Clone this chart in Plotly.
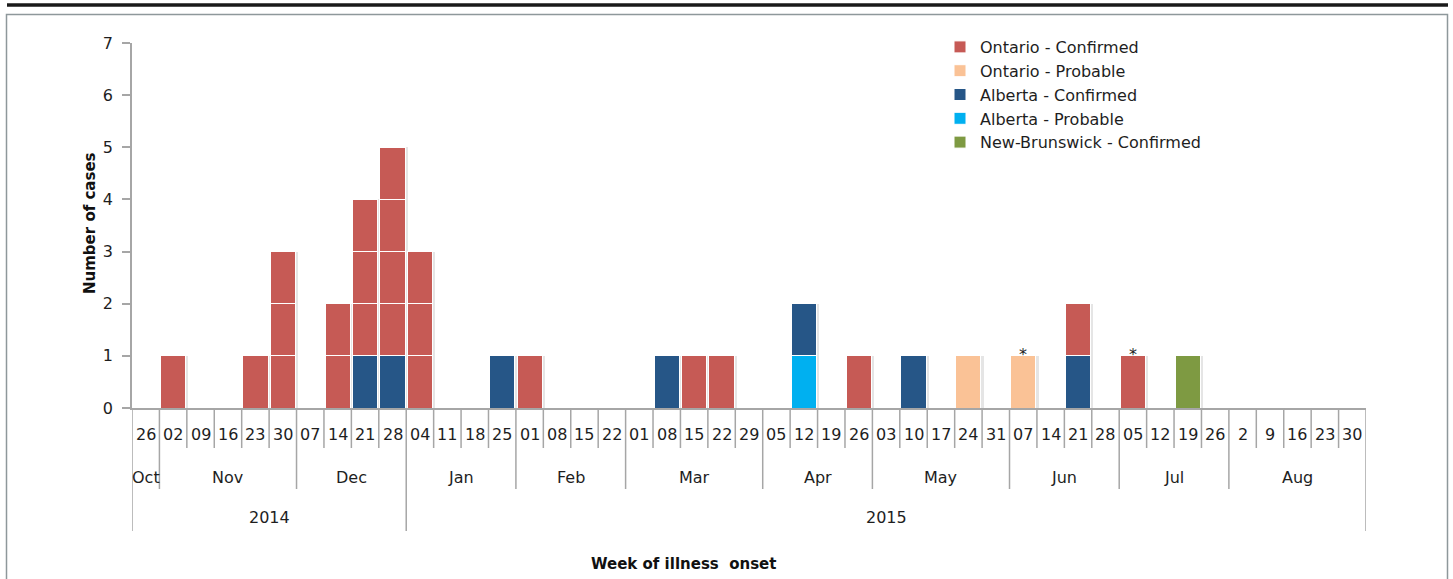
import plotly.graph_objects as go

# ---------------- data ----------------
weeks = ["26",
         "02", "09", "16", "23", "30",
         "07", "14", "21", "28",
         "04", "11", "18", "25",
         "01", "08", "15", "22",
         "01", "08", "15", "22", "29",
         "05", "12", "19", "26",
         "03", "10", "17", "24", "31",
         "07", "14", "21", "28",
         "05", "12", "19", "26",
         "2", "9", "16", "23", "30"]
months = (["Oct"] + ["Nov"] * 5 + ["Dec"] * 4 + ["Jan"] * 4 + ["Feb"] * 4 +
          ["Mar"] * 5 + ["Apr"] * 4 + ["May"] * 5 + ["Jun"] * 4 + ["Jul"] * 4 +
          ["Aug"] * 5)
years = ["2014"] * 10 + ["2015"] * 35

#           Oct Nov        Dec      Jan      Feb      Mar        Apr      May        Jun      Jul      Aug
on_conf = [0, 1,0,0,1,3, 0,2,3,4, 3,0,0,0, 1,0,0,0, 0,0,1,1,0, 0,0,0,1, 0,0,0,0,0, 0,0,1,0, 1,0,0,0, 0,0,0,0,0]
on_prob = [0, 0,0,0,0,0, 0,0,0,0, 0,0,0,0, 0,0,0,0, 0,0,0,0,0, 0,0,0,0, 0,0,0,1,0, 1,0,0,0, 0,0,0,0, 0,0,0,0,0]
ab_conf = [0, 0,0,0,0,0, 0,0,1,1, 0,0,0,1, 0,0,0,0, 0,1,0,0,0, 0,1,0,0, 0,1,0,0,0, 0,0,1,0, 0,0,0,0, 0,0,0,0,0]
ab_prob = [0, 0,0,0,0,0, 0,0,0,0, 0,0,0,0, 0,0,0,0, 0,0,0,0,0, 0,1,0,0, 0,0,0,0,0, 0,0,0,0, 0,0,0,0, 0,0,0,0,0]
nb_conf = [0, 0,0,0,0,0, 0,0,0,0, 0,0,0,0, 0,0,0,0, 0,0,0,0,0, 0,0,0,0, 0,0,0,0,0, 0,0,0,0, 0,0,1,0, 0,0,0,0,0]
starred = ["07 Jun", "05 Jul"]

# stacking order bottom -> top, with legend rank
series = [
    ("Alberta - Probable", ab_prob, "#00B0F0", 4),
    ("Alberta - Confirmed", ab_conf, "#265687", 3),
    ("Ontario - Confirmed", on_conf, "#C65A55", 1),
    ("Ontario - Probable", on_prob, "#FAC296", 2),
    ("New-Brunswick - Confirmed", nb_conf, "#7E9A42", 5),
]

# ---------------- geometry helpers (pixels -> paper) ----------------
W, H = 1453, 579
PL, PR, PT, PB = 132, 1366, 43, 408
def xp(px):
    return (px - PL) / (PR - PL)
def yp(py):
    return (PB - py) / (PB - PT)

FONT = "DejaVu Sans"
TXT = "#1e1e1e"
GRID = "#A6A6A6"
BARW = 0.92

x = list(range(len(weeks)))
n = len(weeks)
totals = [sum(s[1][i] for s in series) for i in x]

fig = go.Figure()

# soft shadow behind the bars (on the base x axis, drawn underneath)
fig.add_trace(go.Bar(
    x=x, y=[t if t > 0 else None for t in totals], width=BARW, offset=-BARW / 2 + 0.1,
    marker=dict(color="rgba(0,0,0,0.10)", line=dict(width=0)),
    showlegend=False, hoverinfo="skip", xaxis="x", yaxis="y"))

for name, vals, color, rank in series:
    for k in range(max(vals)):
        ys = [1 if v > k else None for v in vals]
        fig.add_trace(go.Bar(
            x=x, y=ys, name=name, legendgroup=name, showlegend=(k == 0),
            legendrank=rank, width=BARW,
            marker=dict(color=color, line=dict(color="white", width=1)),
            hoverinfo="skip", xaxis="x2", yaxis="y"))

# asterisks
for s in starred:
    d, m = s.split()
    idx = [i for i in x if weeks[i] == d and months[i] == m][0]
    fig.add_annotation(x=idx, y=totals[idx], xref="x", yref="y", text="*", showarrow=False,
                       yanchor="bottom", yshift=-10, font=dict(family=FONT, size=16, color=TXT))

shapes = []
# separators on the multi-level category axis
LEN_DAY, LEN_MONTH, LEN_YEAR = 448, 489, 531
for i in range(n + 1):
    if i == 0 or i == n or years[i] != years[i - 1]:
        end = LEN_YEAR
    elif months[i] != months[i - 1]:
        end = LEN_MONTH
    else:
        end = LEN_DAY
    shapes.append(dict(type="line", xref="x", yref="paper", x0=i - 0.5, x1=i - 0.5,
                       y0=yp(PB), y1=yp(end), line=dict(color=GRID, width=1.5)))

# labels
for i, d in enumerate(weeks):
    fig.add_annotation(x=i, y=yp(434), xref="x", yref="paper", text=d, showarrow=False,
                       yanchor="middle", font=dict(family=FONT, size=16, color=TXT))

def groups(labels):
    out = []
    start = 0
    for i in range(1, len(labels) + 1):
        if i == len(labels) or labels[i] != labels[start]:
            out.append((labels[start], start, i - 1))
            start = i
    return out

for lab, a, b in groups([m + y for m, y in zip(months, years)]):
    fig.add_annotation(x=(a + b) / 2, y=yp(477), xref="x", yref="paper", text=lab[:3],
                       showarrow=False, yanchor="middle",
                       font=dict(family=FONT, size=16, color=TXT))
for lab, a, b in groups(years):
    fig.add_annotation(x=(a + b) / 2, y=yp(517), xref="x", yref="paper", text=lab,
                       showarrow=False, yanchor="middle",
                       font=dict(family=FONT, size=16, color=TXT))

# axis titles
fig.add_annotation(x=xp(683), y=yp(564), xref="paper", yref="paper",
                   text="<b>Week of illness  onset</b>", showarrow=False, yanchor="middle",
                   font=dict(family=FONT, size=15, color="#111111"))
fig.add_annotation(x=xp(90), y=yp(223), xref="paper", yref="paper",
                   text="<b>Number of cases</b>", showarrow=False, textangle=-90,
                   xanchor="center", yanchor="middle",
                   font=dict(family=FONT, size=15, color="#111111"))

# frame and top rule
shapes.append(dict(type="rect", xref="paper", yref="paper", x0=xp(6.5), x1=xp(1447.5),
                   y0=yp(640), y1=yp(14.5), line=dict(color="#8E989B", width=1.5),
                   layer="below"))
shapes.append(dict(type="line", xref="paper", yref="paper", x0=xp(7), x1=xp(1448),
                   y0=yp(5), y1=yp(5), line=dict(color="#1a1a1a", width=3.5)))

fig.update_layout(
    width=W, height=H,
    margin=dict(l=PL, r=W - PR, t=PT, b=H - PB, pad=0),
    paper_bgcolor="white", plot_bgcolor="white",
    barmode="stack", bargap=0.08,
    shapes=shapes,
    font=dict(family=FONT, size=16, color=TXT),
    legend=dict(x=xp(940), y=yp(30), xanchor="left", yanchor="top",
                bgcolor="rgba(0,0,0,0)", font=dict(family=FONT, size=16, color=TXT),
                tracegroupgap=0, traceorder="normal"),
    xaxis=dict(range=[-0.5, n - 0.5], showticklabels=False, ticks="", showgrid=False,
               zeroline=False, showline=True, linecolor=GRID, linewidth=1.5, fixedrange=True),
    xaxis2=dict(range=[-0.5, n - 0.5], overlaying="x", showticklabels=False, ticks="",
                showgrid=False, zeroline=False, showline=False, fixedrange=True),
    yaxis=dict(range=[0, 7], dtick=1, tick0=0, ticks="outside", ticklen=8, tickcolor=GRID,
               tickwidth=1.5, showgrid=False, zeroline=False, showline=True, linecolor=GRID,
               linewidth=1.5, ticklabelstandoff=6,
               tickfont=dict(family=FONT, size=16, color=TXT), fixedrange=True),
)

fig.write_html("out.html")
